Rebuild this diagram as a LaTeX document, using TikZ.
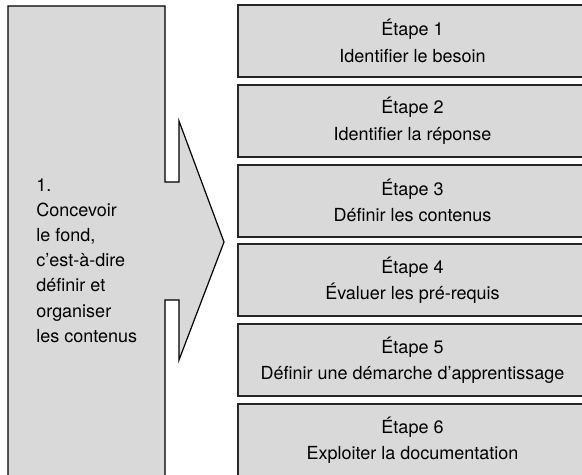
\documentclass[tikz,border=0pt]{standalone}
\usepackage{fontspec}
\setmainfont{TeX Gyre Heros}
\usepackage{xcolor}
\usepackage{tikz}
\usetikzlibrary{positioning}
\definecolor{fondgris}{RGB}{217,217,217}

\begin{document}
\begin{tikzpicture}[x=0.5pt,y=-0.5pt,
        etape/.style={draw=black!85, line width=1pt, fill=fondgris,
            minimum width=174.5pt, minimum height=36pt, inner sep=0pt,
            align=center, font=\fontsize{9}{13.2}\selectfont},
        texte/.style={inner sep=0pt, align=left, font=\fontsize{9}{12.6}\selectfont}]
        %CADRE
        \useasboundingbox (0,0) rectangle (582,475);
        \clip (0,0) rectangle (582,475);
        %FLECHE
        \filldraw[fill=fondgris, draw=black, line width=0.6pt] (8,6) -- (165,6) -- (165,182) -- (179,182) -- (179,121) -- (224,242)
            -- (179,360) -- (179,300) -- (165,300) -- (165,480) -- (8,480) -- cycle;
        \node[texte, anchor=north west] (concevoir) at (36,178)
            {1.\\Concevoir\\le fond,\\c’est-à-dire\\définir et\\organiser\\les contenus};
        %ETAPES
        \node[etape, anchor=north west] (etape1) at (237,4) {Étape 1\\Identifier le besoin};
        \node[etape, below=2.9pt of etape1] (etape2) {Étape 2\\Identifier la réponse};
        \node[etape, below=2.9pt of etape2] (etape3) {Étape 3\\Définir les contenus};
        \node[etape, below=2.9pt of etape3] (etape4) {Étape 4\\Évaluer les pré-requis};
        \node[etape, below=2.9pt of etape4] (etape5) {Étape 5\\Définir une démarche d’apprentissage};
        \node[etape, below=2.9pt of etape5] (etape6) {Étape 6\\Exploiter la documentation};
\end{tikzpicture}
\end{document}
